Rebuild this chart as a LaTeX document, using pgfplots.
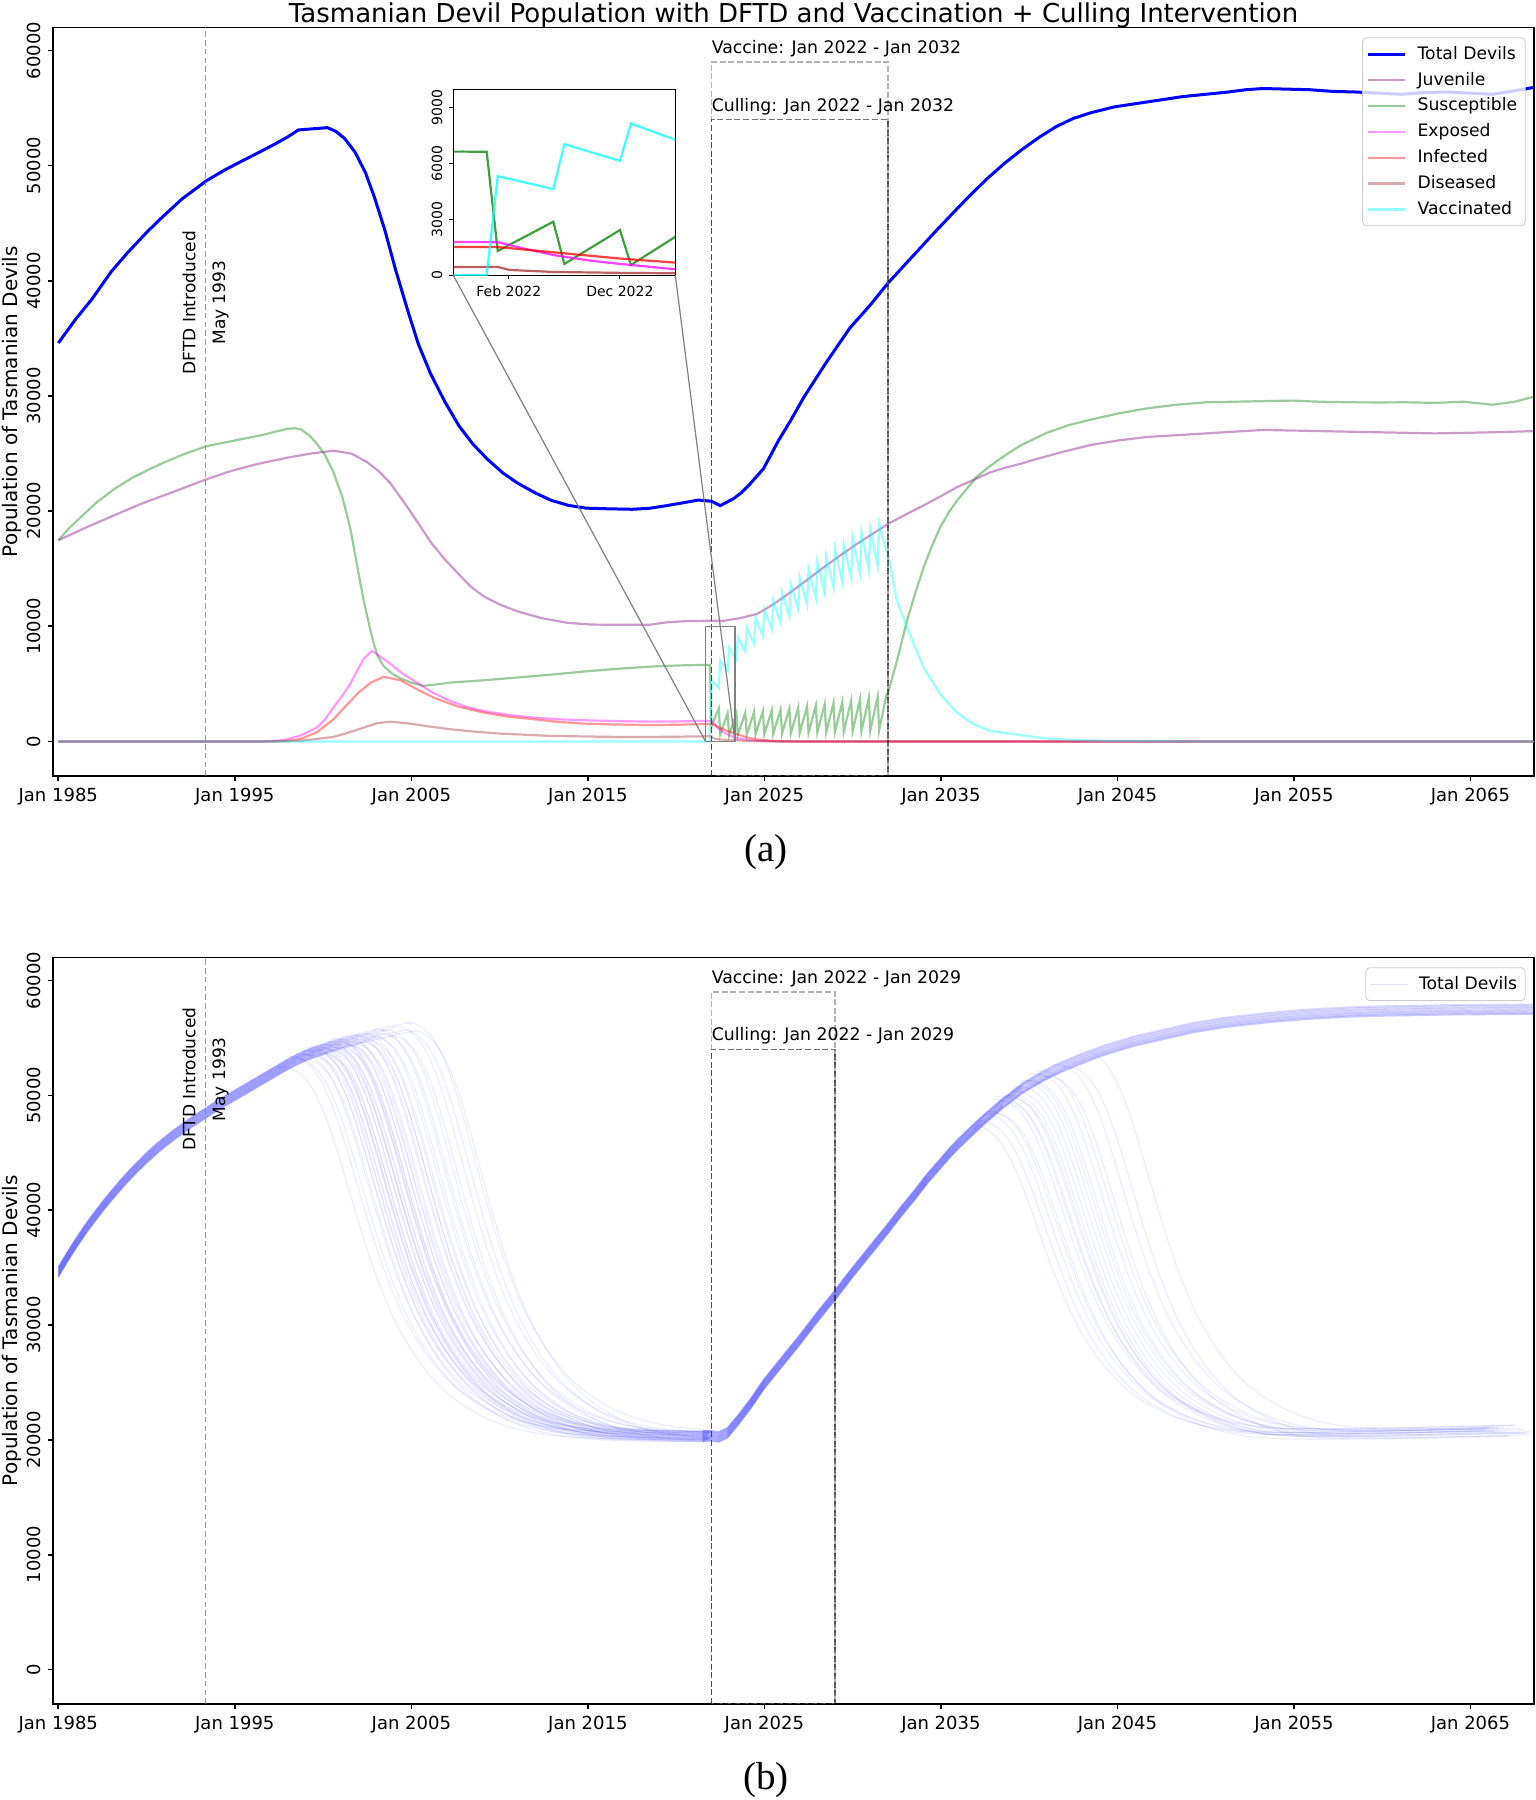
\documentclass[border=0pt]{standalone}
\usepackage{fontspec}
\setmainfont{DejaVu Sans}
\newfontfamily\capfont{Liberation Serif}
\usepackage{pgfplots}
\usepackage{pgfplotstable}
\pgfplotsset{compat=1.18}

\definecolor{cjuv}{RGB}{128,0,128}
\definecolor{csus}{RGB}{0,128,0}
\definecolor{cexp}{RGB}{255,0,255}
\definecolor{cinf}{RGB}{255,0,0}
\definecolor{cdis}{RGB}{165,42,42}
\definecolor{cvac}{RGB}{0,255,255}
\definecolor{legedge}{RGB}{204,204,204}

% ---------------- top panel data ----------------
\pgfplotstableread{
t v
1985.0 34600
1986.0 36700
1986.9 38400
1988.0 40800
1988.9 42400
1990.0 44200
1990.8 45400
1992.0 47100
1993.4 48700
1994.4 49600
1995.4 50400
1996.3 51100
1997.3 51900
1998.0 52500
1998.6 53100
1999.4 53200
2000.25 53300
2000.7 53000
2001.2 52400
2001.8 51200
2002.4 49400
2002.9 47300
2003.5 44400
2004.1 41000
2004.8 37400
2005.4 34500
2006.1 31900
2006.9 29500
2007.7 27400
2008.5 25800
2009.35 24450
2010.2 23300
2011.0 22450
2012.0 21600
2012.9 20950
2013.9 20500
2014.9 20260
2016.2 20200
2017.5 20160
2018.5 20250
2019.4 20460
2020.3 20700
2021.25 20960
2021.7 20900
2022.0 20860
2022.5 20480
2023.25 21080
2023.7 21600
2024.2 22390
2024.95 23690
2025.8 26130
2026.5 27900
2027.24 29900
2028.5 32900
2029.84 35900
2031.0 37900
2032.0 39800
2032.9 41300
2033.74 42700
2034.7 44300
2035.69 45900
2036.7 47500
2037.64 48900
2038.6 50200
2039.59 51400
2040.6 52500
2041.54 53400
2042.5 54100
2043.5 54600
2044.8 55100
2046.1 55400
2047.4 55700
2048.7 56000
2050.0 56200
2051.3 56400
2052.3 56600
2053.25 56700
2054.5 56650
2055.85 56600
2057.2 56450
2058.45 56400
2059.8 56300
2061.06 56200
2062.4 56350
2063.66 56400
2065.0 56300
2066.26 56200
2067.5 56500
2068.6 56800
}\tot

\pgfplotstableread{
t v
1985.0 17470
1986.6 18600
1988.2 19660
1989.8 20700
1991.5 21660
1993.1 22600
1994.7 23450
1996.3 24100
1998.0 24650
1999.3 25000
2000.6 25250
2001.6 25000
2002.5 24250
2003.2 23400
2003.8 22450
2004.8 20300
2005.5 18700
2006.1 17300
2006.9 15800
2007.7 14500
2008.4 13400
2009.1 12600
2010.0 11900
2011.0 11300
2012.4 10700
2013.85 10300
2015.2 10150
2016.65 10130
2018.5 10130
2019.5 10350
2020.6 10450
2021.8 10480
2022.7 10480
2023.6 10700
2024.6 11080
2025.5 11900
2026.46 12940
2027.4 14000
2028.35 15110
2029.3 16150
2030.24 17150
2031.1 18000
2032.0 18890
2033.0 19700
2034.0 20480
2035.0 21300
2035.9 22070
2036.9 22750
2037.8 23370
2038.7 23800
2039.5 24100
2040.24 24450
2041.9 25150
2043.5 25750
2045.1 26150
2046.75 26450
2048.4 26600
2050.0 26750
2051.6 26900
2053.25 27050
2054.9 27000
2056.5 26950
2058.1 26900
2059.76 26850
2061.4 26800
2063.0 26750
2064.7 26800
2066.3 26850
2068.6 26950
}\juv

\pgfplotstableread{
t v
1985.0 17470
1985.6 18500
1986.26 19460
1987.2 20800
1988.21 21960
1989.2 22900
1990.17 23650
1991.1 24300
1992.12 24950
1993.42 25650
1994.72 26050
1995.7 26350
1996.67 26650
1997.3 26900
1997.97 27150
1998.4 27200
1998.75 27100
1999.2 26600
1999.6 25950
2000.1 24900
2000.57 23450
2001.1 21200
2001.55 18460
2001.9 15500
2002.3 12220
2002.6 10200
2002.87 8480
2003.1 7400
2003.42 6560
2003.9 5900
2004.37 5490
2005.0 5100
2005.69 4830
2006.4 4950
2007.2 5110
2009.0 5300
2010.98 5550
2012.9 5800
2014.76 6070
2016.6 6300
2018.53 6500
2020.1 6600
2021.74 6650
2021.917 6637
2022.0 1306
2022.417 2880
2022.5 608
2022.917 2433
2023.0 555
2023.417 2450
2023.5 570
2023.917 2500
2024.0 590
2024.417 2560
2024.5 610
2024.917 2620
2025.0 630
2025.417 2700
2025.5 650
2025.917 2780
2026.0 680
2026.417 2860
2026.5 700
2026.917 2950
2027.0 730
2027.417 3040
2027.5 750
2027.917 3130
2028.0 780
2028.417 3230
2028.5 800
2028.917 3330
2029.0 830
2029.417 3440
2029.5 850
2029.917 3550
2030.0 880
2030.417 3660
2030.5 900
2030.917 3780
2031.0 930
2031.417 3900
2031.5 950
2031.917 4040
2032.0 4200
2032.51 7000
2033.08 10480
2033.55 12900
2034.02 15110
2034.5 17000
2034.96 18590
2035.45 19900
2035.91 20910
2036.5 22000
2037.0 22940
2037.6 23700
2038.2 24390
2038.9 25100
2039.5 25700
2041.0 26800
2042.2 27450
2043.5 27950
2045.1 28500
2046.75 28940
2048.4 29250
2050.0 29450
2051.6 29500
2053.25 29550
2054.9 29600
2056.5 29500
2058.1 29450
2059.76 29440
2061.4 29450
2063.0 29400
2064.6 29500
2066.26 29240
2067.5 29500
2068.6 29940
}\sus

\pgfplotstableread{
t v
1985.0 0
1996.5 0
1997.76 100
1998.7 500
1999.65 1200
2000.1 1900
2000.59 2940
2001.1 4000
2001.54 5000
2002.29 7170
2002.77 7870
2003.3 7300
2003.8 6740
2004.5 5900
2005.31 5110
2006.2 4250
2007.2 3520
2008.1 3000
2009.09 2650
2010.5 2300
2011.92 2070
2013.3 1930
2014.76 1840
2016.6 1770
2018.53 1720
2020.1 1740
2021.667 1790
2022.0 1780
2022.19 1450
2022.417 1090
2022.69 790
2022.917 610
2023.333 322
2023.8 180
2024.5 70
2025.3 20
2026.0 0
2068.6 0
}\expo

\pgfplotstableread{
t v
1985.0 0
1997.0 0
1998.0 60
1998.7 200
1999.65 800
2000.59 1930
2001.3 3100
2002.01 4240
2002.7 5100
2003.42 5610
2004.37 5320
2005.3 4550
2006.25 3810
2007.6 3050
2009.09 2510
2010.5 2150
2011.92 1930
2013.3 1700
2014.76 1550
2016.6 1470
2018.53 1420
2020.1 1450
2021.667 1520
2022.0 1520
2022.25 1350
2022.5 1180
2022.917 900
2023.333 680
2024.0 350
2024.7 150
2025.5 50
2026.3 10
2027.0 0
2068.6 0
}\inf

\pgfplotstableread{
t v
1985.0 0
1997.5 0
1998.7 50
2000.59 390
2001.3 700
2002.01 1060
2003.05 1580
2003.8 1720
2004.93 1550
2006.0 1300
2007.2 1060
2008.6 850
2010.04 680
2012.87 480
2016.65 390
2019.5 400
2021.667 447
2022.0 447
2022.09 286
2022.417 179
2022.917 130
2023.333 107
2024.0 50
2025.0 10
2026.0 0
2068.6 0
}\dis

\pgfplotstableread{
t v
1985.0 0
2021.917 0
2022.0 5330
2022.417 4633
2022.5 7050
2022.917 6154
2023.0 8160
2023.417 7060
2023.5 9030
2023.917 7770
2024.0 9900
2024.417 8460
2024.5 10770
2024.917 9150
2025.0 11500
2025.417 9780
2025.5 12220
2025.917 10330
2026.0 12940
2026.417 10870
2026.5 13670
2026.917 11480
2027.0 14250
2027.417 11900
2027.5 14970
2027.917 12500
2028.0 15550
2028.417 12910
2028.5 16130
2028.917 13390
2029.0 16710
2029.417 13790
2029.5 17150
2029.917 14150
2030.0 17720
2030.417 14620
2030.5 18160
2030.917 14890
2031.0 18540
2031.417 15260
2031.5 18890
2031.917 16500
2032.0 16300
2032.51 12220
2033.08 9900
2034.02 6420
2034.96 4100
2035.91 2500
2036.85 1500
2037.8 910
2039.5 550
2041.0 250
2043.0 100
2045.0 40
2048.0 10
2050.0 0
2068.6 0
}\vac

% ---------------- bottom panel data ----------------
\pgfplotstableread{
t v
1985.0 34600
1985.5 35900
1986.0 37100
1986.5 38250
1987.0 39300
1987.5 40300
1988.0 41250
1988.5 42150
1989.0 43000
1989.5 43800
1990.0 44550
1990.5 45250
1991.0 45900
1991.5 46500
1992.0 47050
1992.5 47600
1993.0 48100
1993.5 48600
1994.0 49100
1994.5 49550
1995.0 50000
1995.5 50450
1996.0 50900
1996.5 51350
1997.0 51800
1997.5 52250
1998.0 52700
1998.5 53100
1999.0 53450
1999.5 53750
2000.0 54000
2000.5 54250
2001.0 54500
2001.5 54700
2002.0 54900
2002.5 55100
2003.0 55300
2003.5 55450
2004.0 55600
2004.5 55750
2005.0 55850
2005.5 55950
2006.0 56050
}\riseB

\pgfplotstableread{
rel f
-0.5 1
0 1
0.5 0.99
1 0.97
1.5 0.935
2 0.885
2.5 0.82
3 0.745
3.5 0.665
4 0.585
4.5 0.51
5 0.44
5.5 0.38
6 0.325
6.5 0.28
7 0.24
7.5 0.205
8 0.175
8.5 0.148
9 0.125
9.5 0.106
10 0.09
10.5 0.075
11 0.062
11.5 0.051
12 0.042
12.5 0.034
13 0.027
13.5 0.022
14 0.017
14.5 0.013
15 0.01
15.5 0.008
16 0.006
16.5 0.005
17 0.004
17.5 0.003
18 0.002
18.5 0.002
19 0.001
19.5 0.001
20 0
20.5 0
21 0
21.5 0
22 0
22.5 0
23 0
23.5 0
24 0
24.5 0
25 0
}\crashA

\pgfplotstableread{
t v
2021.5 20350
2022.0 20350
2022.4 20250
2022.9 20600
2023.5 21700
2024.2 23100
2025.0 24900
2026.0 26800
2027.0 28700
2028.0 30700
2029.0 32600
2030.0 34600
2031.0 36500
2032.0 38400
2032.7 39800
2033.5 41300
2034.2 42700
2035.0 44100
2035.5 45000
2036.0 45800
2037.3 47700
2038.5 49300
2039.6 50600
2040.7 51600
2041.2 52000
2041.9 52500
2043.0 53200
2044.2 53900
2045.9 54700
2047.6 55300
2049.3 55900
2051.1 56350
2053.4 56750
2055.7 57050
2058.0 57250
2060.3 57350
2064.0 57450
2068.6 57500
}\interB

\pgfplotstableread{
rel g
-0.5 1
0 1
0.5 0.99
1 0.97
1.5 0.935
2 0.885
2.5 0.82
3 0.745
3.5 0.665
4 0.585
4.5 0.51
5 0.44
5.5 0.38
6 0.325
6.5 0.28
7 0.24
7.5 0.205
8 0.175
8.5 0.148
9 0.125
9.5 0.106
10 0.09
11 0.062
12 0.042
13 0.027
14 0.017
15 0.011
16 0.008
18 0.007
20 0.008
23 0.011
26 0.015
29 0.018
32 0.021
}\crashB

\tikzset{
  dftd/.style={draw=gray, draw opacity=0.8, line width=0.7pt, dash pattern=on 2.8pt off 1.6pt},
  vacbox/.style={draw=gray, draw opacity=0.6, line width=0.8pt, dash pattern=on 3pt off 1.3pt},
  culbox/.style={draw=black, draw opacity=0.55, line width=0.8pt, dash pattern=on 3pt off 1.3pt},
}

\pgfplotsset{
  base/.style={
    scale only axis, width=740.5pt,
    xmin=1984.7, xmax=2068.6, ymin=-3000, ymax=62000,
    axis line style={line width=0.8pt},
    tick style={black, line width=0.8pt},
    tick align=outside, major tick length=2.5pt,
    xtick pos=bottom, ytick pos=left,
    xtick={1985,1995,...,2065},
    xticklabels={Jan 1985,Jan 1995,Jan 2005,Jan 2015,Jan 2025,Jan 2035,Jan 2045,Jan 2055,Jan 2065},
    ytick={0,10000,...,60000},
    scaled y ticks=false,
    /pgf/number format/1000 sep={},
    /pgf/number format/assume math mode=true,
    tick label style={font=\fontsize{9}{10}\selectfont},
    yticklabel style={rotate=90, anchor=south},
    ylabel={Population of Tasmanian Devils},
    ylabel style={font=\fontsize{10}{12}\selectfont, at={(rel axis cs:-0.028,0.5)}, anchor=center},
  },
  mylegend/.style={
    legend style={at={(rel axis cs:0.9943,0.9868)}, anchor=north east,
      draw=legedge, rounded corners=2pt, fill=white, fill opacity=0.8,
      draw opacity=1, text opacity=1,
      font=\fontsize{8.6}{9}\selectfont,
      inner xsep=2pt, inner ysep=2.2pt, row sep=0.9pt, column sep=3.5pt},
    legend cell align=left,
    legend image code/.code={\draw[##1] (0pt,0pt) -- (18.5pt,0pt);},
  },
  run/.style={blue, draw opacity=0.075, line width=0.55pt, forget plot},
  comp/.style={line width=1.1pt, draw opacity=0.4},
  insc/.style={line width=1.1pt, draw opacity=0.75},
}

\begin{document}
\begin{tikzpicture}
\path[use as bounding box] (0pt,0pt) rectangle (768pt,900pt);

% ================= TOP PANEL =================
\begin{axis}[base, name=top, at={(26.5pt,512pt)}, anchor=south west, height=374.25pt, mylegend]
\addplot[blue, line width=1.5pt] table[x=t,y=v]{\tot};
\addlegendentry{\vphantom{lg}Total Devils}
\addplot[cjuv, comp] table[x=t,y=v]{\juv};
\addlegendentry{\vphantom{lg}Juvenile}
\addplot[csus, comp] table[x=t,y=v]{\sus};
\addlegendentry{\vphantom{lg}Susceptible}
\addplot[cexp, comp] table[x=t,y=v]{\expo};
\addlegendentry{\vphantom{lg}Exposed}
\addplot[cinf, comp] table[x=t,y=v]{\inf};
\addlegendentry{\vphantom{lg}Infected}
\addplot[cdis, comp] table[x=t,y=v]{\dis};
\addlegendentry{\vphantom{lg}Diseased}
\addplot[cvac, comp] table[x=t,y=v]{\vac};
\addlegendentry{\vphantom{lg}Vaccinated}

\draw[dftd] (axis cs:1993.333,-3000) -- (axis cs:1993.333,62000);
\node[xshift=-8.2pt, rotate=90, font=\fontsize{8.5}{10}\selectfont] at (axis cs:1993.333,38100) {DFTD Introduced};
\node[xshift=7.6pt, rotate=90, font=\fontsize{8.5}{10}\selectfont] at (axis cs:1993.333,38100) {May 1993};

\draw[vacbox] (axis cs:2022,-3000) rectangle (axis cs:2032,59000);
\draw[culbox] (axis cs:2022,-3000) rectangle (axis cs:2032,54000);
\node[anchor=base west, inner sep=0pt, yshift=4.2pt, font=\fontsize{8.65}{10}\selectfont] at (axis cs:2022,59000) {Vaccine: Jan 2022 - Jan 2032};
\node[anchor=base west, inner sep=0pt, yshift=4.2pt, font=\fontsize{8.65}{10}\selectfont] at (axis cs:2022,54000) {Culling: Jan 2022 - Jan 2032};

\draw[gray, line width=0.75pt] (axis cs:2021.667,0) rectangle (axis cs:2023.333,10000);
\coordinate (zl) at (axis cs:2021.667,0);
\coordinate (zr) at (axis cs:2023.333,0);
\end{axis}

% ================= INSET =================
\begin{axis}[name=ins, at={(226.65pt,762.35pt)}, anchor=south west,
  scale only axis, width=111pt, height=93pt,
  xmin=2021.667, xmax=2023.333, ymin=0, ymax=10000,
  axis background/.style={fill=white},
  axis line style={line width=0.6pt},
  tick style={black, line width=0.6pt},
  tick align=outside, major tick length=2pt,
  xtick pos=bottom, ytick pos=left,
  xtick={2022.0833,2022.9167}, xticklabels={Feb 2022,Dec 2022},
  ytick={0,3000,6000,9000},
  scaled y ticks=false,
  /pgf/number format/1000 sep={},
  /pgf/number format/assume math mode=true,
  tick label style={font=\fontsize{7}{8}\selectfont},
  yticklabel style={rotate=90, anchor=south},
]
\addplot[cjuv, insc] table[x=t,y=v]{\juv};
\addplot[csus, insc] table[x=t,y=v]{\sus};
\addplot[cexp, insc] table[x=t,y=v]{\expo};
\addplot[cinf, insc] table[x=t,y=v]{\inf};
\addplot[cdis, insc] table[x=t,y=v]{\dis};
\addplot[cvac, insc] table[x=t,y=v]{\vac};
\end{axis}
\draw[gray, line width=0.6pt] (ins.south west) -- (zl);
\draw[gray, line width=0.6pt] (ins.south east) -- (zr);

% ================= BOTTOM PANEL =================
\begin{axis}[base, name=bot, at={(26.5pt,48pt)}, anchor=south west, height=373.25pt, mylegend]
\addlegendimage{blue, draw opacity=0.12, line width=0.6pt}
\addlegendentry{\vphantom{lg}Total Devils}
\foreach \ta/\pa/\dy/\tb/\pb in {
1998.0/52700/-250/2039.3/50250,
1998.4/53020/350/0/0,
1998.7/53240/-50/2038.0/48630,
1999.0/53450/150/0/0,
1999.2/53570/-450/0/0,
1999.3/53630/250/2040.1/51050,
1999.4/53690/-150/0/0,
1999.5/53750/450/2038.6/49420,
1999.6/53800/-350/0/0,
1999.7/53850/50/2039.7/50690,
1999.8/53900/-250/0/0,
1999.9/53950/350/0/0,
2000.0/54000/-50/2037.4/47830,
2000.1/54050/150/0/0,
2000.2/54100/-450/2041.3/52070,
2000.3/54150/250/0/0,
2000.4/54200/-150/2038.8/49650,
2000.5/54250/450/0/0,
2000.6/54300/-350/0/0,
2000.7/54350/50/2039.0/49890,
2000.8/54400/-250/0/0,
2000.9/54450/350/2040.6/51510,
2001.0/54500/-50/0/0,
2001.1/54540/150/0/0,
2001.2/54580/-450/2038.2/48900,
2001.3/54620/250/0/0,
2001.4/54660/-150/2039.5/50480,
2001.5/54700/450/0/0,
2001.6/54740/-350/2042.4/52820,
2001.7/54780/50/0/0,
2001.85/54840/-250/2039.15/50070,
2002.0/54900/350/0/0,
2002.15/54960/-50/0/0,
2002.3/55020/150/2037.0/47260,
2002.4/55060/-450/0/0,
2002.5/55100/250/2039.9/50870,
1999.95/53975/-150/0/0,
2000.95/54475/450/2038.4/49170,
2002.7/55180/-350/0/0,
2002.9/55260/50/2040.3/51240,
2003.1/55330/-250/0/0,
2003.3/55390/350/2040.9/51760,
2003.5/55450/-50/0/0,
2003.8/55540/150/2037.7/48230,
2004.1/55630/-450/0/0,
2004.4/55720/250/2041.8/52430,
2004.8/55810/-150/0/0,
2005.1/55870/450/2043.3/53400,
2005.4/55930/-350/0/0,
2000.55/54275/50/0/0}{%
  \edef\tmp{\noexpand\addplot[run] table[x=t, y expr=\noexpand\thisrow{v}+(\dy), restrict x to domain=1984:\ta]{\noexpand\riseB};}\tmp
  \edef\tmp{\noexpand\addplot[run] table[x expr=\noexpand\thisrow{rel}+\ta, y expr=\noexpand\thisrow{f}*(\pa-20300)+20300+(\dy), restrict x to domain=1984:2022]{\noexpand\crashA};}\tmp
  \ifdim\tb pt>1pt
    \edef\tmp{\noexpand\addplot[run] table[x=t, y expr=\noexpand\thisrow{v}+(\dy), restrict x to domain=2021:\tb]{\noexpand\interB};}\tmp
    \edef\tmp{\noexpand\addplot[run] table[x expr=\noexpand\thisrow{rel}+\tb, y expr=\noexpand\thisrow{g}*(\pb-20300)+20300+(\dy), restrict x to domain=2000:2068.6]{\noexpand\crashB};}\tmp
  \else
    \edef\tmp{\noexpand\addplot[run] table[x=t, y expr=\noexpand\thisrow{v}+(\dy)]{\noexpand\interB};}\tmp
  \fi
}

\draw[dftd] (axis cs:1993.333,-3000) -- (axis cs:1993.333,62000);
\node[xshift=-8.2pt, rotate=90, font=\fontsize{8.5}{10}\selectfont] at (axis cs:1993.333,51400) {DFTD Introduced};
\node[xshift=7.6pt, rotate=90, font=\fontsize{8.5}{10}\selectfont] at (axis cs:1993.333,51400) {May 1993};

\draw[vacbox] (axis cs:2022,-3000) rectangle (axis cs:2029,59000);
\draw[culbox] (axis cs:2022,-3000) rectangle (axis cs:2029,54000);
\node[anchor=base west, inner sep=0pt, yshift=4.2pt, font=\fontsize{8.65}{10}\selectfont] at (axis cs:2022,59000) {Vaccine: Jan 2022 - Jan 2029};
\node[anchor=base west, inner sep=0pt, yshift=4.2pt, font=\fontsize{8.65}{10}\selectfont] at (axis cs:2022,54000) {Culling: Jan 2022 - Jan 2029};
\end{axis}

% ================= titles and captions =================
\node[anchor=base, font=\fontsize{13}{15}\selectfont] at (396.75pt,888.8pt) {Tasmanian Devil Population with DFTD and Vaccination + Culling Intervention};
\node[font=\capfont\fontsize{19.5}{22}\selectfont] at (382.9pt,474.1pt) {(a)};
\node[font=\capfont\fontsize{19.5}{22}\selectfont] at (383pt,9.8pt) {(b)};
\end{tikzpicture}
\end{document}
